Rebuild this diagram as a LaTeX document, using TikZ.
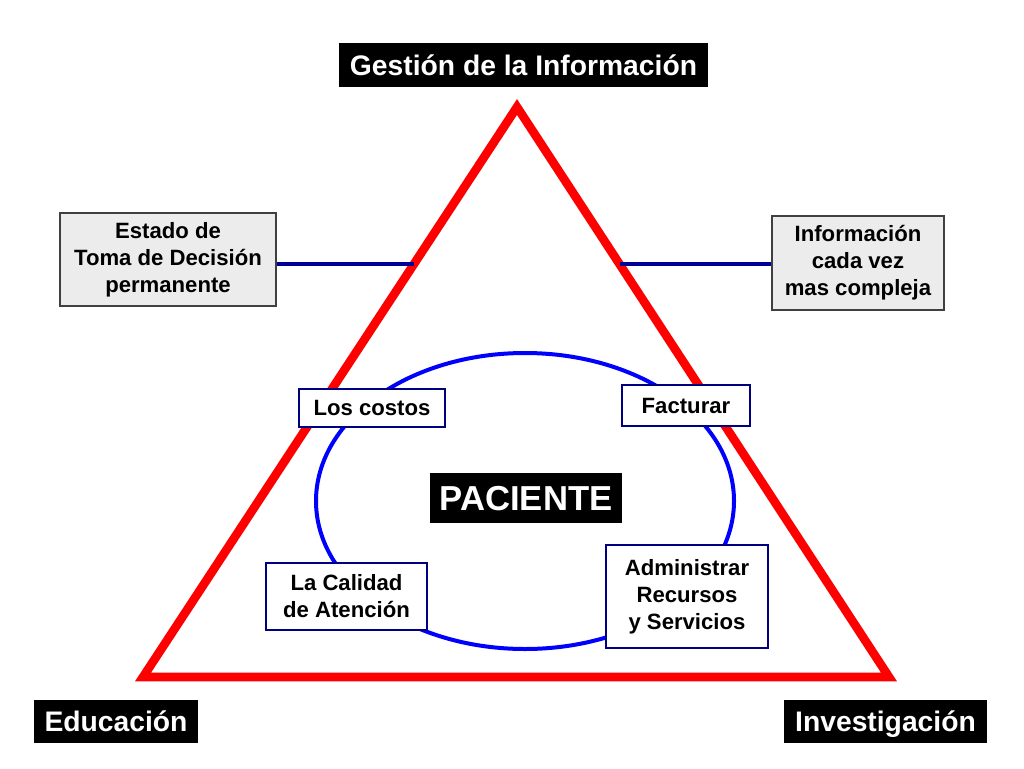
\documentclass[tikz,border=0pt]{standalone}
\usepackage{fontspec}
\setmainfont{Liberation Sans}
\begin{document}
\begin{tikzpicture}[x=0.75pt,y=-0.75pt,
  blackbox/.style={fill=black,text=white,font=\bfseries\fontsize{21.2}{25}\selectfont,inner sep=0pt,text height=15.5pt,text depth=0pt},
  graybox/.style={fill=gray!15,draw=black!75,line width=0.9pt,align=center,inner sep=0pt,font=\bfseries\fontsize{16.6}{20.3}\selectfont},
  whitebox/.style={fill=white,draw=blue!50!black,line width=0.9pt,align=center,inner sep=0pt,font=\bfseries\fontsize{16.6}{20.3}\selectfont},
  tri/.style={draw=red,line width=6.5pt,line join=miter},
  ring/.style={draw=blue,line width=3pt},
  link/.style={draw=blue!60!black,line width=3pt}]
\useasboundingbox (0,0) rectangle (1024,768);
% ellipse
\draw[ring] (525,501) ellipse [x radius=209, y radius=148];
% triangle
\coordinate (apex) at (517,107);
\coordinate (bl) at (143,677);
\coordinate (br) at (889,677);
\draw[tri] (apex) -- (bl) -- (br) -- cycle;
\coordinate (le) at (414,264);
\coordinate (re) at (620,264);
% side boxes
\node[graybox,minimum width=162pt,minimum height=69.75pt] (estado) at (168,259.5) {Estado de\\Toma de Decisión\\permanente};
\node[graybox,minimum width=129pt,minimum height=70.5pt] (info) at (858,263) {Información\\cada vez\\mas compleja};
\draw[link] (estado.east |- le) -- (le);
\draw[link] (info.west |- re) -- (re);
% corner labels
\node[blackbox,minimum width=276.75pt,minimum height=33pt] (gest) at (523.5,65) {Gestión de la Información};
\node[blackbox,minimum width=123pt,minimum height=32.25pt] (edu) at (116,721.5) {Educación};
\node[blackbox,minimum width=152.25pt,minimum height=32.25pt] (inv) at (885.5,721.5) {Investigación};
\node[blackbox,font=\bfseries\fontsize{26}{30}\selectfont,text height=18.6pt,text depth=0pt,minimum width=144pt,minimum height=37.5pt] (pac) at (526,498) {PACIENTE};
% inner boxes
\node[whitebox,minimum width=109.5pt,minimum height=28.5pt] (costos) at (372,408) {Los costos};
\node[whitebox,minimum width=96pt,minimum height=30.75pt] (fact) at (686,405.5) {Facturar};
\node[whitebox,minimum width=120.75pt,minimum height=50.25pt] (cal) at (346.5,596.5) {La Calidad\\de Atención};
\node[whitebox,minimum width=121.5pt,minimum height=77.25pt] (adm) at (687,596.5) {Administrar\\Recursos\\y Servicios};
\end{tikzpicture}
\end{document}
